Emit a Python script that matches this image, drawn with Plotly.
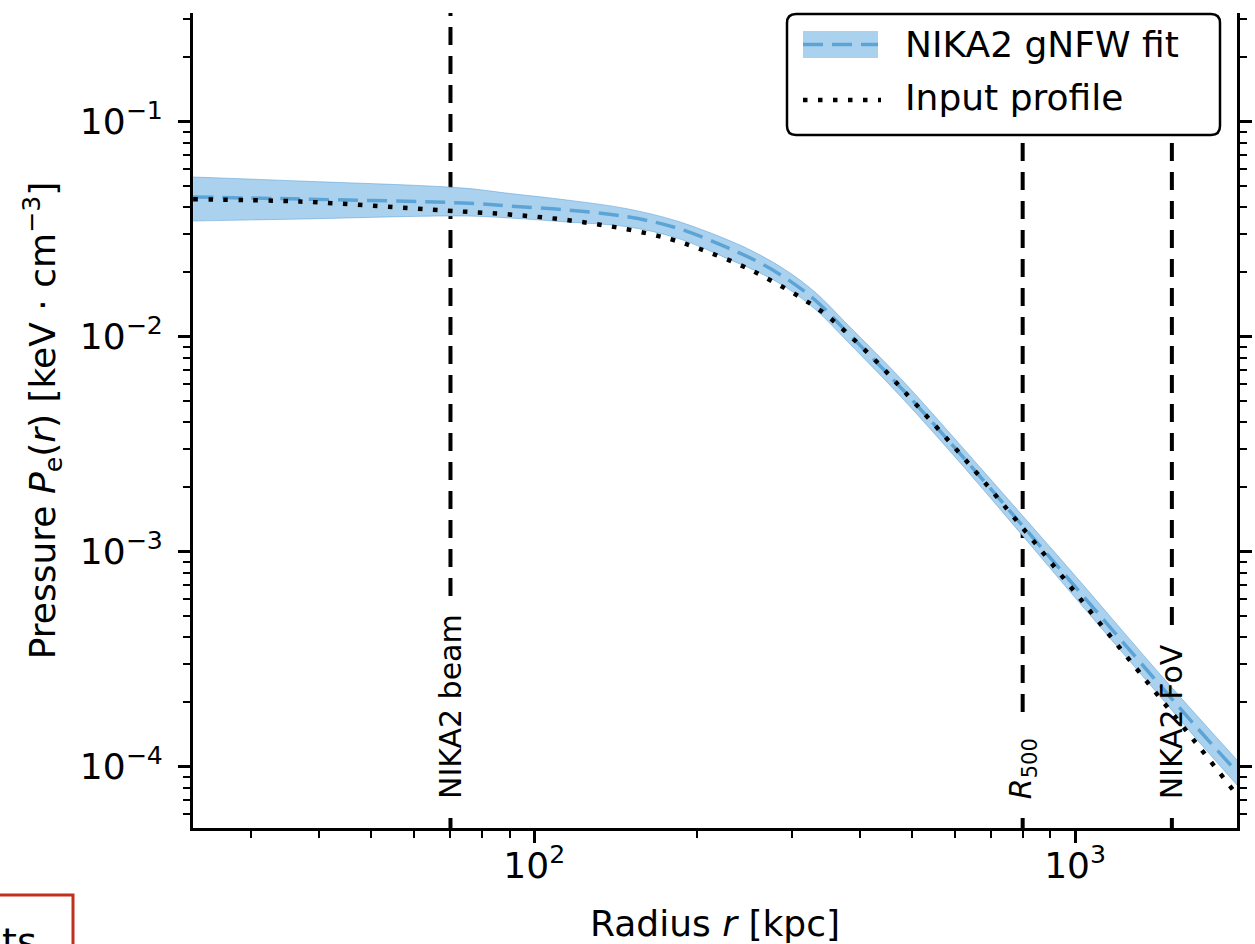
import math
import plotly.graph_objects as go

# ---- data -------------------------------------------------------------
# Input pressure profile (radius in kpc, pressure in keV cm^-3)
r_input = [23.4, 36.9, 69.0, 89.0, 114.9, 148.4, 178.2, 202.5, 240.2, 272.8,
           309.9, 344.9, 380.3, 426.6, 480.6, 620.4, 797.7, 1012.5, 1387.6, 1702, 1993]
p_input = [0.04355, 0.04253, 0.03855, 0.03710, 0.03489, 0.03159, 0.02847,
           0.02558, 0.02156, 0.01835, 0.01529, 0.01275, 0.01029, 0.007791,
           0.005650, 0.002758, 0.001302, 0.0006223, 0.0002324, 0.0001222, 7.386e-5]

# NIKA2 gNFW fit: best fit and its uncertainty envelope
r_fit = [23.4, 36.9, 73.8, 90.2, 114.9, 148.4, 183.6, 233.0, 261.5, 293.4,
         330.4, 380.3, 480.6, 620.4, 797.7, 1012.5, 1387.6, 1702, 1993]
p_fit = [0.04464, 0.04369, 0.04186, 0.04054, 0.03884, 0.03615, 0.03203,
         0.02530, 0.02203, 0.01855, 0.01481, 0.01040, 0.005650, 0.002758,
         0.001331, 0.0006636, 0.0002642, 0.0001466, 9.448e-5]
p_fit_hi = [0.05530, 0.05298, 0.04914, 0.04635, 0.04323, 0.03938, 0.03452,
            0.02757, 0.02399, 0.02021, 0.01613, 0.01133, 0.006223, 0.003037,
            0.001481, 0.0007464, 0.0002972, 0.0001667, 0.0001074]
p_fit_lo = [0.03452, 0.03527, 0.03642, 0.03565, 0.03416, 0.03248, 0.02877,
            0.02250, 0.01978, 0.01684, 0.01345, 0.009448, 0.005131, 0.002504,
            0.001196, 0.0005899, 0.0002349, 0.0001289, 8.218e-5]

# Characteristic radii marked on the plot (kpc)
marker_r = [70, 800, 1510]
marker_text = ["NIKA2 beam", "<i>R</i><sub>500</sub>", "NIKA2 FoV"]

# Axis ticks
x_ticks = [100, 1000]
x_ticktext = ["10<sup>2</sup>", "10<sup>3</sup>"]
x_minor = [30, 40, 50, 60, 70, 80, 90, 200, 300, 400, 500, 600, 700, 800, 900, 2000]
y_ticks = [1e-4, 1e-3, 1e-2, 1e-1]
y_ticktext = ["10<sup>\u22124</sup>", "10<sup>\u22123</sup>",
              "10<sup>\u22122</sup>", "10<sup>\u22121</sup>"]
y_minor = [m * 10.0 ** e for e in (-5, -4, -3, -2, -1) for m in range(2, 10)]

# ---- styling ----------------------------------------------------------
FONT = "DejaVu Sans"
BAND = "#aad2ee"
BAND_EDGE = "rgba(95,160,215,0.55)"
FIT = "#5da4d6"
W, H = 1255, 944
ML, MR, MT, MB = 193, 18, 13, 116
PW, PH = W - ML - MR, H - MT - MB
X_LOG_RANGE = [1.369, 3.2994]
PX_PER_DEX = PW / (X_LOG_RANGE[1] - X_LOG_RANGE[0])


def px(x):
    """Horizontal pixel -> paper coordinate."""
    return (x - ML) / PW


def py(y):
    """Vertical pixel (from top) -> paper coordinate."""
    return (H - MB - y) / PH


fig = go.Figure()

# uncertainty band
fig.add_trace(go.Scatter(x=r_fit, y=p_fit_lo, mode="lines",
                         line=dict(color=BAND_EDGE, width=1, shape="spline", smoothing=1.0),
                         showlegend=False, hoverinfo="skip"))
fig.add_trace(go.Scatter(x=r_fit, y=p_fit_hi, mode="lines", fill="tonexty", fillcolor=BAND,
                         line=dict(color=BAND_EDGE, width=1, shape="spline", smoothing=1.0),
                         showlegend=False, hoverinfo="skip"))
# best-fit gNFW profile
fig.add_trace(go.Scatter(x=r_fit, y=p_fit, mode="lines",
                         line=dict(color=FIT, width=3.5, dash="20px,9px", shape="spline", smoothing=1.0),
                         showlegend=False))
# input profile
fig.add_trace(go.Scatter(x=r_input, y=p_input, mode="lines",
                         line=dict(color="black", width=4.5, dash="4.5px,10.5px",
                                   shape="spline", smoothing=1.0),
                         showlegend=False))

shapes = []
annotations = []

# vertical reference lines, with a white gap behind each label
half_gap = 10 ** (15 / PX_PER_DEX)
for r in marker_r:
    shapes.append(dict(type="line", xref="x", yref="paper", x0=r, x1=r, y0=0, y1=1,
                       line=dict(color="black", width=4, dash="18px,11px"), layer="below"))
gap_tops = [603, 722, 630]
for r, top in zip(marker_r, gap_tops):
    shapes.append(dict(type="rect", xref="x", yref="paper", x0=r / half_gap, x1=r * half_gap,
                       y0=py(818), y1=py(top),
                       fillcolor="white", line=dict(width=0), layer="below"))
for r, t in zip(marker_r, marker_text):
    annotations.append(dict(x=math.log10(r), xref="x", y=py(801), yref="paper", text=t,
                            textangle=-90, xanchor="center", yanchor="bottom", showarrow=False,
                            font=dict(family=FONT, size=30, color="black")))

# legend box (rounded corners)
x0, x1, y0, y1, rr = 787, 1220, 14, 135, 9
path = (f"M {px(x0+rr)},{py(y0)} L {px(x1-rr)},{py(y0)} Q {px(x1)},{py(y0)} {px(x1)},{py(y0+rr)} "
        f"L {px(x1)},{py(y1-rr)} Q {px(x1)},{py(y1)} {px(x1-rr)},{py(y1)} "
        f"L {px(x0+rr)},{py(y1)} Q {px(x0)},{py(y1)} {px(x0)},{py(y1-rr)} "
        f"L {px(x0)},{py(y0+rr)} Q {px(x0)},{py(y0)} {px(x0+rr)},{py(y0)} Z")
shapes.append(dict(type="path", xref="paper", yref="paper", path=path,
                   fillcolor="white", line=dict(color="black", width=2.5), layer="above"))
shapes.append(dict(type="rect", xref="paper", yref="paper", x0=px(803), x1=px(878),
                   y0=py(58), y1=py(31), fillcolor=BAND, line=dict(width=0), layer="above"))
shapes.append(dict(type="line", xref="paper", yref="paper", x0=px(803), x1=px(878),
                   y0=py(44.5), y1=py(44.5), line=dict(color=FIT, width=3.5, dash="20px,9px"),
                   layer="above"))
shapes.append(dict(type="line", xref="paper", yref="paper", x0=px(803), x1=px(881),
                   y0=py(100), y1=py(100), line=dict(color="black", width=4.5, dash="4.5px,10.5px"),
                   layer="above"))
annotations.append(dict(x=px(903), y=py(44), xref="paper", yref="paper", text="NIKA2 gNFW fit",
                        xanchor="left", yanchor="middle", showarrow=False,
                        font=dict(family=FONT, size=36, color="black")))
annotations.append(dict(x=px(903), y=py(98), xref="paper", yref="paper", text="Input profile",
                        xanchor="left", yanchor="middle", showarrow=False,
                        font=dict(family=FONT, size=36, color="black")))

# red frame at the lower-left corner of the page
shapes.append(dict(type="rect", xref="paper", yref="paper", x0=px(-10), x1=px(73),
                   y0=py(960), y1=py(895), fillcolor="rgba(0,0,0,0)",
                   line=dict(color="#c0301e", width=3), layer="above"))
annotations.append(dict(x=px(39), y=py(918), xref="paper", yref="paper", text="ts",
                        xanchor="right", yanchor="top", showarrow=False,
                        font=dict(family=FONT, size=38, color="black")))

axis_common = dict(showgrid=False, zeroline=False, showline=True, linecolor="black", linewidth=3,
                   ticks="outside", ticklen=12, tickwidth=2.5, tickcolor="black",
                   tickfont=dict(family=FONT, size=36, color="black"))

fig.update_layout(
    width=W, height=H,
    margin=dict(l=ML, r=MR, t=MT, b=MB, autoexpand=False),
    paper_bgcolor="white", plot_bgcolor="white",
    showlegend=False,
    shapes=shapes, annotations=annotations,
    xaxis=dict(type="log", range=X_LOG_RANGE, tickvals=x_ticks, ticktext=x_ticktext,
               mirror=False, ticklabelstandoff=-8,
               minor=dict(tickvals=x_minor, ticks="outside", ticklen=7, tickwidth=1.8, tickcolor="black"),
               title=dict(text="Radius <i>r</i> [kpc]", standoff=26,
                          font=dict(family=FONT, size=36, color="black")),
               **axis_common),
    yaxis=dict(type="log", range=[-4.285, -0.4944], tickvals=y_ticks, ticktext=y_ticktext,
               mirror="allticks", ticklabelstandoff=8,
               minor=dict(tickvals=y_minor, ticks="outside", ticklen=7, tickwidth=1.8, tickcolor="black"),
               title=dict(text="Pressure <i>P</i><sub>e</sub>(<i>r</i>) [keV \u00b7 cm<sup>\u22123</sup>]",
                          standoff=14, font=dict(family=FONT, size=36, color="black")),
               **axis_common),
)

fig.write_html("out.html")
